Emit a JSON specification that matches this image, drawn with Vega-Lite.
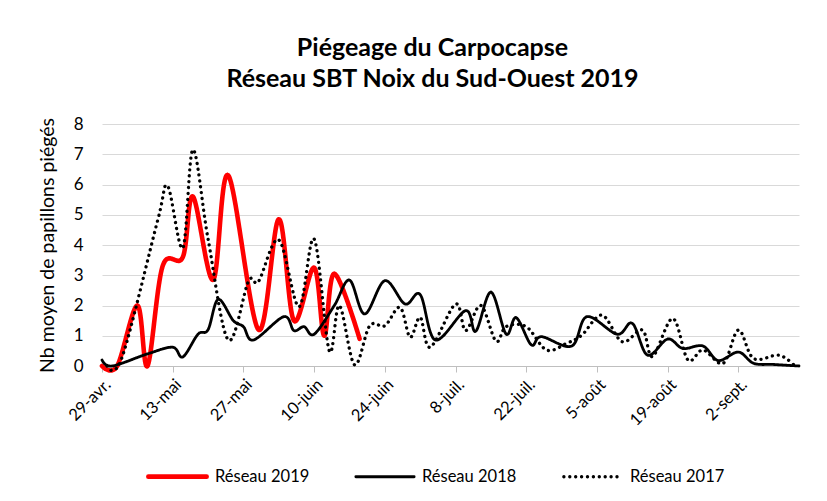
{
  "$schema": "https://vega.github.io/schema/vega-lite/v6.json",
  "width": 697,
  "height": 242,
  "autosize": {"type": "none"},
  "padding": {"left": 102, "top": 124, "right": 28, "bottom": 135},
  "background": "white",
  "title": {
    "text": ["Piégeage du Carpocapse", "Réseau SBT Noix du Sud-Ouest 2019"],
    "font": "Lato",
    "fontSize": 25,
    "fontWeight": "bold",
    "color": "#000000",
    "anchor": "middle",
    "dx": -18,
    "offset": 23,
    "lineHeight": 31
  },
  "data": {
    "values": [
      {"date": "2019-04-29T00:00:00", "serie": "Réseau 2019", "v": 0},
      {"date": "2019-05-02T00:00:00", "serie": "Réseau 2019", "v": 0},
      {"date": "2019-05-06T00:00:00", "serie": "Réseau 2019", "v": 2.0},
      {"date": "2019-05-08T00:00:00", "serie": "Réseau 2019", "v": 0},
      {"date": "2019-05-11T00:00:00", "serie": "Réseau 2019", "v": 3.3},
      {"date": "2019-05-15T00:00:00", "serie": "Réseau 2019", "v": 3.6},
      {"date": "2019-05-17T00:00:00", "serie": "Réseau 2019", "v": 5.6},
      {"date": "2019-05-21T00:00:00", "serie": "Réseau 2019", "v": 2.85},
      {"date": "2019-05-24T00:00:00", "serie": "Réseau 2019", "v": 6.3},
      {"date": "2019-05-30T00:00:00", "serie": "Réseau 2019", "v": 1.2},
      {"date": "2019-06-03T00:00:00", "serie": "Réseau 2019", "v": 4.85},
      {"date": "2019-06-06T00:00:00", "serie": "Réseau 2019", "v": 1.5},
      {"date": "2019-06-10T00:00:00", "serie": "Réseau 2019", "v": 3.25},
      {"date": "2019-06-12T00:00:00", "serie": "Réseau 2019", "v": 1.0},
      {"date": "2019-06-14T00:00:00", "serie": "Réseau 2019", "v": 3.05},
      {"date": "2019-06-19T00:00:00", "serie": "Réseau 2019", "v": 0.9},

      {"date": "2019-04-29T00:00:00", "serie": "Réseau 2018", "v": 0.2},
      {"date": "2019-05-01T00:00:00", "serie": "Réseau 2018", "v": 0.0},
      {"date": "2019-05-08T00:00:00", "serie": "Réseau 2018", "v": 0.4},
      {"date": "2019-05-13T00:00:00", "serie": "Réseau 2018", "v": 0.62},
      {"date": "2019-05-15T00:00:00", "serie": "Réseau 2018", "v": 0.3},
      {"date": "2019-05-18T00:00:00", "serie": "Réseau 2018", "v": 1.05},
      {"date": "2019-05-20T00:00:00", "serie": "Réseau 2018", "v": 1.2},
      {"date": "2019-05-22T00:00:00", "serie": "Réseau 2018", "v": 2.2},
      {"date": "2019-05-25T00:00:00", "serie": "Réseau 2018", "v": 1.5},
      {"date": "2019-05-27T00:00:00", "serie": "Réseau 2018", "v": 1.3},
      {"date": "2019-05-29T00:00:00", "serie": "Réseau 2018", "v": 0.86},
      {"date": "2019-06-04T00:00:00", "serie": "Réseau 2018", "v": 1.63},
      {"date": "2019-06-06T00:00:00", "serie": "Réseau 2018", "v": 1.17},
      {"date": "2019-06-08T00:00:00", "serie": "Réseau 2018", "v": 1.3},
      {"date": "2019-06-10T00:00:00", "serie": "Réseau 2018", "v": 1.05},
      {"date": "2019-06-14T00:00:00", "serie": "Réseau 2018", "v": 2.0},
      {"date": "2019-06-17T00:00:00", "serie": "Réseau 2018", "v": 2.84},
      {"date": "2019-06-20T00:00:00", "serie": "Réseau 2018", "v": 1.72},
      {"date": "2019-06-24T00:00:00", "serie": "Réseau 2018", "v": 2.82},
      {"date": "2019-06-28T00:00:00", "serie": "Réseau 2018", "v": 2.05},
      {"date": "2019-07-01T00:00:00", "serie": "Réseau 2018", "v": 2.36},
      {"date": "2019-07-04T00:00:00", "serie": "Réseau 2018", "v": 0.86},
      {"date": "2019-07-10T00:00:00", "serie": "Réseau 2018", "v": 1.83},
      {"date": "2019-07-12T00:00:00", "serie": "Réseau 2018", "v": 1.15},
      {"date": "2019-07-15T00:00:00", "serie": "Réseau 2018", "v": 2.44},
      {"date": "2019-07-18T00:00:00", "serie": "Réseau 2018", "v": 1.06},
      {"date": "2019-07-20T00:00:00", "serie": "Réseau 2018", "v": 1.6},
      {"date": "2019-07-23T00:00:00", "serie": "Réseau 2018", "v": 0.7},
      {"date": "2019-07-25T00:00:00", "serie": "Réseau 2018", "v": 0.97},
      {"date": "2019-07-31T00:00:00", "serie": "Réseau 2018", "v": 0.66},
      {"date": "2019-08-03T00:00:00", "serie": "Réseau 2018", "v": 1.63},
      {"date": "2019-08-09T00:00:00", "serie": "Réseau 2018", "v": 1.05},
      {"date": "2019-08-12T00:00:00", "serie": "Réseau 2018", "v": 1.41},
      {"date": "2019-08-15T00:00:00", "serie": "Réseau 2018", "v": 0.36},
      {"date": "2019-08-19T00:00:00", "serie": "Réseau 2018", "v": 0.89},
      {"date": "2019-08-22T00:00:00", "serie": "Réseau 2018", "v": 0.58},
      {"date": "2019-08-26T00:00:00", "serie": "Réseau 2018", "v": 0.66},
      {"date": "2019-08-29T00:00:00", "serie": "Réseau 2018", "v": 0.18},
      {"date": "2019-09-02T00:00:00", "serie": "Réseau 2018", "v": 0.46},
      {"date": "2019-09-05T00:00:00", "serie": "Réseau 2018", "v": 0.09},
      {"date": "2019-09-09T00:00:00", "serie": "Réseau 2018", "v": 0.05},
      {"date": "2019-09-14T00:00:00", "serie": "Réseau 2018", "v": 0.0},

      {"date": "2019-04-30T00:00:00", "serie": "Réseau 2017", "v": 0},
      {"date": "2019-05-03T00:00:00", "serie": "Réseau 2017", "v": 0.3},
      {"date": "2019-05-10T00:00:00", "serie": "Réseau 2017", "v": 4.8},
      {"date": "2019-05-12T00:00:00", "serie": "Réseau 2017", "v": 5.95},
      {"date": "2019-05-15T00:00:00", "serie": "Réseau 2017", "v": 3.9},
      {"date": "2019-05-17T00:00:00", "serie": "Réseau 2017", "v": 7.15},
      {"date": "2019-05-20T00:00:00", "serie": "Réseau 2017", "v": 4.2},
      {"date": "2019-05-24T00:00:00", "serie": "Réseau 2017", "v": 0.86},
      {"date": "2019-05-28T00:00:00", "serie": "Réseau 2017", "v": 2.8},
      {"date": "2019-05-30T00:00:00", "serie": "Réseau 2017", "v": 2.8},
      {"date": "2019-06-03T00:00:00", "serie": "Réseau 2017", "v": 4.17},
      {"date": "2019-06-07T00:00:00", "serie": "Réseau 2017", "v": 1.96},
      {"date": "2019-06-10T00:00:00", "serie": "Réseau 2017", "v": 4.2},
      {"date": "2019-06-13T00:00:00", "serie": "Réseau 2017", "v": 0.5},
      {"date": "2019-06-15T00:00:00", "serie": "Réseau 2017", "v": 2.0},
      {"date": "2019-06-18T00:00:00", "serie": "Réseau 2017", "v": 0.04},
      {"date": "2019-06-21T00:00:00", "serie": "Réseau 2017", "v": 1.33},
      {"date": "2019-06-24T00:00:00", "serie": "Réseau 2017", "v": 1.33},
      {"date": "2019-06-27T00:00:00", "serie": "Réseau 2017", "v": 1.94},
      {"date": "2019-06-29T00:00:00", "serie": "Réseau 2017", "v": 0.95},
      {"date": "2019-07-01T00:00:00", "serie": "Réseau 2017", "v": 1.61},
      {"date": "2019-07-03T00:00:00", "serie": "Réseau 2017", "v": 0.62},
      {"date": "2019-07-08T00:00:00", "serie": "Réseau 2017", "v": 2.05},
      {"date": "2019-07-10T00:00:00", "serie": "Réseau 2017", "v": 1.17},
      {"date": "2019-07-13T00:00:00", "serie": "Réseau 2017", "v": 2.0},
      {"date": "2019-07-16T00:00:00", "serie": "Réseau 2017", "v": 0.82},
      {"date": "2019-07-18T00:00:00", "serie": "Réseau 2017", "v": 1.3},
      {"date": "2019-07-22T00:00:00", "serie": "Réseau 2017", "v": 1.3},
      {"date": "2019-07-26T00:00:00", "serie": "Réseau 2017", "v": 0.53},
      {"date": "2019-07-30T00:00:00", "serie": "Réseau 2017", "v": 0.75},
      {"date": "2019-08-02T00:00:00", "serie": "Réseau 2017", "v": 1.02},
      {"date": "2019-08-06T00:00:00", "serie": "Réseau 2017", "v": 1.68},
      {"date": "2019-08-10T00:00:00", "serie": "Réseau 2017", "v": 0.8},
      {"date": "2019-08-14T00:00:00", "serie": "Réseau 2017", "v": 1.19},
      {"date": "2019-08-16T00:00:00", "serie": "Réseau 2017", "v": 0.31},
      {"date": "2019-08-20T00:00:00", "serie": "Réseau 2017", "v": 1.57},
      {"date": "2019-08-23T00:00:00", "serie": "Réseau 2017", "v": 0.2},
      {"date": "2019-08-26T00:00:00", "serie": "Réseau 2017", "v": 0.53},
      {"date": "2019-08-30T00:00:00", "serie": "Réseau 2017", "v": 0.09},
      {"date": "2019-09-02T00:00:00", "serie": "Réseau 2017", "v": 1.19},
      {"date": "2019-09-05T00:00:00", "serie": "Réseau 2017", "v": 0.25},
      {"date": "2019-09-10T00:00:00", "serie": "Réseau 2017", "v": 0.36},
      {"date": "2019-09-13T00:00:00", "serie": "Réseau 2017", "v": 0.03}
    ]
  },
  "encoding": {
    "x": {
      "field": "date",
      "type": "temporal",
      "scale": {"domain": [{"year": 2019, "month": 4, "date": 29}, {"year": 2019, "month": 9, "date": 14}]},
      "axis": {
        "title": null,
        "values": [
          {"year": 2019, "month": 4, "date": 29},
          {"year": 2019, "month": 5, "date": 13},
          {"year": 2019, "month": 5, "date": 27},
          {"year": 2019, "month": 6, "date": 10},
          {"year": 2019, "month": 6, "date": 24},
          {"year": 2019, "month": 7, "date": 8},
          {"year": 2019, "month": 7, "date": 22},
          {"year": 2019, "month": 8, "date": 5},
          {"year": 2019, "month": 8, "date": 19},
          {"year": 2019, "month": 9, "date": 2}
        ],
        "labelExpr": "date(datum.value) + '-' + ['janv.','févr.','mars','avr.','mai','juin','juil.','août','sept.','oct.','nov.','déc.'][month(datum.value)]",
        "labelAngle": -45,
        "labelFont": "Lato",
        "labelFontSize": 16.5,
        "labelColor": "#000000",
        "labelOverlap": false,
        "labelBound": false,
        "labelFlush": false,
        "grid": false,
        "domainColor": "#bfbfbf",
        "domainWidth": 1,
        "tickColor": "#bfbfbf",
        "tickSize": 6,
        "labelPadding": 4
      }
    },
    "y": {
      "field": "v",
      "type": "quantitative",
      "scale": {"domain": [0, 8], "nice": false, "zero": true},
      "axis": {
        "title": "Nb moyen de papillons piégés",
        "titleFont": "Lato",
        "titleFontSize": 19.5,
        "titleFontWeight": "normal",
        "titleColor": "#000000",
        "titlePadding": 16,
        "values": [0, 1, 2, 3, 4, 5, 6, 7, 8],
        "labelFont": "Lato",
        "labelFontSize": 17,
        "labelColor": "#000000",
        "labelPadding": 19,
        "domain": false,
        "ticks": false,
        "gridColor": "#d9d9d9",
        "gridWidth": 1.2
      }
    },
    "color": {
      "field": "serie",
      "type": "nominal",
      "scale": {"domain": ["Réseau 2019", "Réseau 2018", "Réseau 2017"], "range": ["#ff0000", "#000000", "#000000"]},
      "legend": {
        "title": null,
        "orient": "none",
        "direction": "horizontal",
        "legendX": 44,
        "legendY": 321,
        "symbolType": "stroke",
        "symbolSize": 3400,
        "labelFont": "Lato",
        "labelFontSize": 16.5,
        "labelColor": "#000000",
        "labelOffset": 6,
        "columnPadding": 40,
        "padding": 0,
        "encode": {
          "symbols": {"update": {"strokeCap": {"value": "round"}}}
        }
      }
    },
    "strokeDash": {
      "field": "serie",
      "type": "nominal",
      "scale": {"domain": ["Réseau 2019", "Réseau 2018", "Réseau 2017"], "range": [[1, 0], [1, 0], [0.1, 5.8]]},
      "legend": null
    },
    "strokeWidth": {
      "field": "serie",
      "type": "nominal",
      "scale": {"type": "ordinal", "domain": ["Réseau 2019", "Réseau 2018", "Réseau 2017"], "range": [4.6, 2.8, 3.3]},
      "legend": null
    }
  },
  "layer": [
    {
      "transform": [{"filter": "datum.serie === 'Réseau 2019'"}],
      "mark": {"type": "line", "interpolate": "cardinal", "strokeCap": "round", "strokeJoin": "round"}
    },
    {
      "transform": [{"filter": "datum.serie === 'Réseau 2018'"}],
      "mark": {"type": "line", "interpolate": "cardinal", "strokeCap": "round", "strokeJoin": "round"}
    },
    {
      "transform": [{"filter": "datum.serie === 'Réseau 2017'"}],
      "mark": {"type": "line", "interpolate": "cardinal", "strokeCap": "round", "strokeJoin": "round"}
    }
  ],
  "config": {
    "view": {"stroke": null},
    "font": "Lato"
  }
}
